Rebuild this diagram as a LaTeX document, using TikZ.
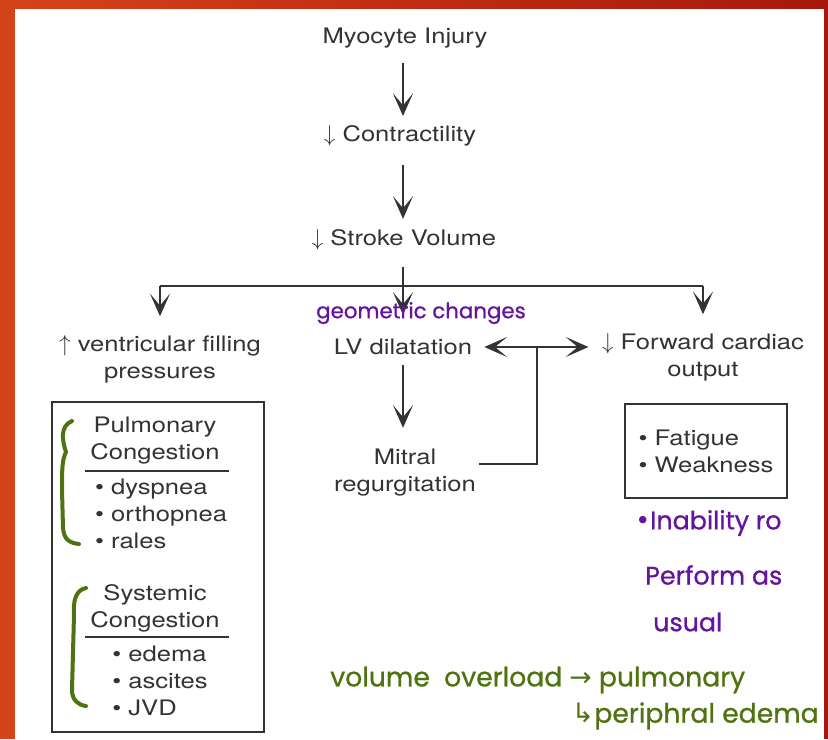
\documentclass[tikz,border=0pt]{standalone}
\usepackage{fontspec}
\setmainfont{TeX Gyre Heros}[FakeStretch=1.2]
\newfontfamily\handfont{Poppins}[FakeBold=0.8]
\newfontfamily\symfont{DejaVu Sans}
\usetikzlibrary{arrows.meta, positioning}
\definecolor{txtgray}{HTML}{333333}
\definecolor{inkpurple}{HTML}{64149E}
\definecolor{inkgreen}{HTML}{4E730F}
\definecolor{slideorange}{HTML}{D4441A}
\definecolor{slidered}{HTML}{A8170C}
\tikzset{>={Stealth[length=17pt,width=15pt,inset=9pt]}}
\tikzset{
  txt/.style={text=txtgray, font=\fontsize{16}{20.25}\selectfont, align=center, inner sep=2pt},
  wire/.style={draw=txtgray, line width=1.4pt},
  flow/.style={wire, ->},
  symbox/.style={draw=txtgray, line width=1.2pt, text=txtgray, font=\fontsize{16}{20.25}\selectfont, align=left},
  purplenote/.style={text=inkpurple, font=\handfont\fontsize{19}{20}\selectfont, inner sep=0pt},
  greennote/.style={text=inkgreen, font=\handfont\fontsize{20}{20}\selectfont, inner sep=0pt},
  brace/.style={draw=inkgreen, line width=3pt, line cap=round},
}

\begin{document}
\begin{tikzpicture}[x=0.75pt, y=-0.75pt]

% slide frame
\fill[white] (0,0) rectangle (828,739);
\shade[left color=slideorange, right color=slidered] (0,0) rectangle (828,8);
\fill[slideorange] (0,0) rectangle (15,739);
\fill[slidered] (824,0) rectangle (828,739);
\useasboundingbox (0,0) rectangle (828,739);

% main chain
\node[txt] (myo) at (405,38) {Myocyte Injury};
\node[txt] (contr) at (400,136) {$\downarrow$ Contractility};
\node[txt] (sv) at (404,240) {$\downarrow$ Stroke Volume};
\node[txt] (vfp) at (160,359) {$\uparrow$ ventricular filling\\pressures};
\node[txt] (lvd) at (403,347) {LV dilatation};
\node[txt] (mr) at (405,473) {Mitral\\regurgitation};
\node[txt] (fco) at (703,357) {$\downarrow$ Forward cardiac\\output};
\coordinate (split) at (403,286);
\coordinate (junc) at (537,347);

\draw[flow, shorten <=9pt, shorten >=5pt] (myo.south -| split) -- (split |- contr.north);
\draw[flow, shorten <=12pt, shorten >=6pt] (contr.south -| split) -- (split |- sv.north);
\draw[wire, shorten <=10pt] (sv.south -| split) -- (split);
\draw[wire] (vfp.north |- split) -- (fco.north |- split);
\draw[flow, shorten >=12pt] (vfp.north |- split) -- (vfp.north);
\draw[flow, shorten >=16pt] (split) -- (split |- lvd.north);
\draw[flow, shorten >=12pt] (fco.north |- split) -- (fco.north);
\draw[flow, <->, shorten <=7pt, shorten >=8pt] (lvd.east) -- (lvd.east -| fco.west);
\draw[flow, shorten <=5pt, shorten >=14pt] (lvd.south -| split) -- (split |- mr.north);
\draw[wire] ([yshift=6.75pt]mr.east) -| (junc);

% symptom boxes
\node[symbox, minimum width=121.5pt, minimum height=70.5pt] (fat) at (706,451) {\textbullet\ Fatigue\\\textbullet\ Weakness};
\node[draw=txtgray, line width=1.2pt, minimum width=159pt, minimum height=247.5pt] (cong) at (158,567) {};
\node[txt] (pulm) at (155,441) {Pulmonary\\Congestion};
\draw[wire] (85,471) -- (229,471);
\node[txt, align=left] (pulmlist) at (161,514) {\textbullet\ dyspnea\\\textbullet\ orthopnea\\\textbullet\ rales};
\node[txt] (syst) at (155,608) {Systemic\\Congestion};
\draw[wire] (85,637) -- (229,637);
\node[txt, align=left] (systlist) at (160,681) {\textbullet\ edema\\\textbullet\ ascites\\\textbullet\ JVD};

% handwritten notes
\node[purplenote, font=\handfont\fontsize{16}{18}\selectfont] (geo) at (421,313) {geometric changes};
\node[purplenote, anchor=west] (inab) at (635,523) {{\symfont•}Inability ro};
\node[purplenote, anchor=west] (perf) at (645,575) {Perform as};
\node[purplenote, anchor=west] (usual) at (653,622) {usual};
\node[greennote, anchor=west] (vol) at (330,680) {volume\ \ overload {\symfont→} pulmonary};
\node[greennote, anchor=east] (peri) at (819,716) {{\symfont↳}periphral edema};
\draw[brace] (72,421) .. controls (60,426) and (62,440) .. (66,452) .. controls (62,460) and (62,470) .. (62,490) -- (63,528) .. controls (64,540) and (70,543) .. (79,544);
\draw[brace] (86,588) .. controls (76,590) and (73,600) .. (74,615) -- (72,690) .. controls (72,700) and (78,705) .. (86,706);

\end{tikzpicture}
\end{document}
